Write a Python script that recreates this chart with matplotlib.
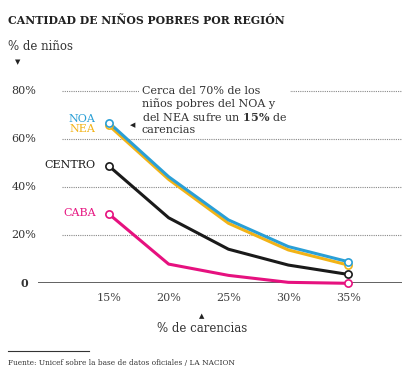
import matplotlib
matplotlib.use("Agg")
import matplotlib.pyplot as plt
import matplotlib.transforms as mtrans

plt.rcParams['font.family'] = ['DejaVu Serif']
plt.rcParams['mathtext.fontset'] = 'custom'
plt.rcParams['mathtext.rm'] = 'DejaVu Serif'
plt.rcParams['mathtext.bf'] = 'DejaVu Serif:bold'

carencias = [15, 20, 25, 30, 35]
x_labels = ["15%", "20%", "25%", "30%", "35%"]
y_ticks = [0, 20, 40, 60, 80]
y_labels = ["0", "20%", "40%", "60%", "80%"]

noa = [67, 44.4, 26.4, 15.3, 9]
nea = [65.8, 43.3, 25, 13.9, 7.6]
centro = [48.9, 27.3, 14.2, 7.6, 3.7]
caba = [28.9, 8, 3.3, 0.4, 0]

series = [
    ("CENTRO", centro, "#1a1a1a"),
    ("CABA", caba, "#e6117f"),
    ("NEA", nea, "#f2b316"),
    ("NOA", noa, "#2a9fd6"),
]
label_y = {"NOA": 68.5, "NEA": 64.5, "CENTRO": 49.5, "CABA": 29.5}

W, H = 420, 380
fig = plt.figure(figsize=(W / 100, H / 100), dpi=100)

def fx(px):
    return px / W

def fy(py):
    return 1 - py / H

ax_left, ax_right, ax_bot, ax_top = 38, 402, 283.3, 55
ax = fig.add_axes([fx(ax_left), fy(ax_bot), (ax_right - ax_left) / W, (ax_bot - ax_top) / H])
ppu = 12.0
xmin = 15 - (109 - ax_left) / ppu
xmax = 35 + (ax_right - 348) / ppu
ax.set_xlim(xmin, xmax)
ax.set_ylim(0, (ax_bot - ax_top) / 2.4)
ax.axis('off')

grid_start = xmin + (62 - ax_left) / ppu
for t in y_ticks[1:]:
    ax.hlines(t, grid_start, xmax, colors="#888888", linestyles=(0, (1, 1)), lw=0.8, zorder=1)
ax.hlines(0, xmin, xmax, colors="#555555", lw=1.3, zorder=2)

for name, vals, col in series:
    ax.plot(carencias, vals, color=col, lw=2.2, zorder=3, clip_on=False, solid_capstyle='round')
    ax.plot([carencias[0], carencias[-1]], [vals[0], vals[-1]], 'o', ms=5.2, mfc='white',
            mec=col, mew=1.2, zorder=4, clip_on=False)
    ax.text(13.9, label_y[name], name, color=col, fontsize=8, ha='right', va='center', zorder=5)

ytrans = mtrans.blended_transform_factory(fig.transFigure, ax.transData)
for t, lab in zip(y_ticks, y_labels):
    ax.text(fx(24), t, lab, transform=ytrans, fontsize=8, ha='center', va='center',
            color="#333333", fontweight='bold' if lab == "0" else 'normal')

for c, lab in zip(carencias, x_labels):
    ax.text(c, -6.2, lab, fontsize=8, ha='center', va='center', color="#444444", clip_on=False)

# annotation
ax.text(xmin + (142 - ax_left) / ppu, 80 + 2.0,
        "Cerca del 70% de los\nniños pobres del NOA y\ndel NEA sufre un $\\bf{15\\%}$ de\ncarencias",
        fontsize=8, ha='left', va='top', color="#333333", linespacing=1.2, zorder=6,
        bbox=dict(boxstyle='square,pad=0.25', fc='white', ec='none'))
fig.text(fx(133), fy(125), "◀", fontsize=5, ha='center', va='center', color="#222222",
         family='DejaVu Sans')

# titles
fig.text(fx(8), fy(20), "CANTIDAD DE NIÑOS POBRES POR REGIÓN", fontsize=7.8, fontweight='bold',
         ha='left', va='center', color="#222222")
fig.text(fx(8), fy(47), "% de niños", fontsize=8.5, ha='left', va='center', color="#333333")
fig.text(fx(18), fy(62), "▼", fontsize=5, ha='center', va='center', color="#222222", family='DejaVu Sans')
fig.text(fx(202), fy(316), "▲", fontsize=5, ha='center', va='center', color="#222222", family='DejaVu Sans')
fig.text(fx(202), fy(328), "% de carencias", fontsize=8.5, ha='center', va='center', color="#333333")

fig.add_artist(plt.Line2D([fx(8), fx(89)], [fy(351), fy(351)], color="#333333", lw=0.8))
fig.text(fx(8), fy(363), "Fuente: Unicef sobre la base de datos oficiales / LA NACION", fontsize=5.3,
         ha='left', va='center', color="#333333")

fig.savefig("out.png", dpi=100, facecolor='white')
